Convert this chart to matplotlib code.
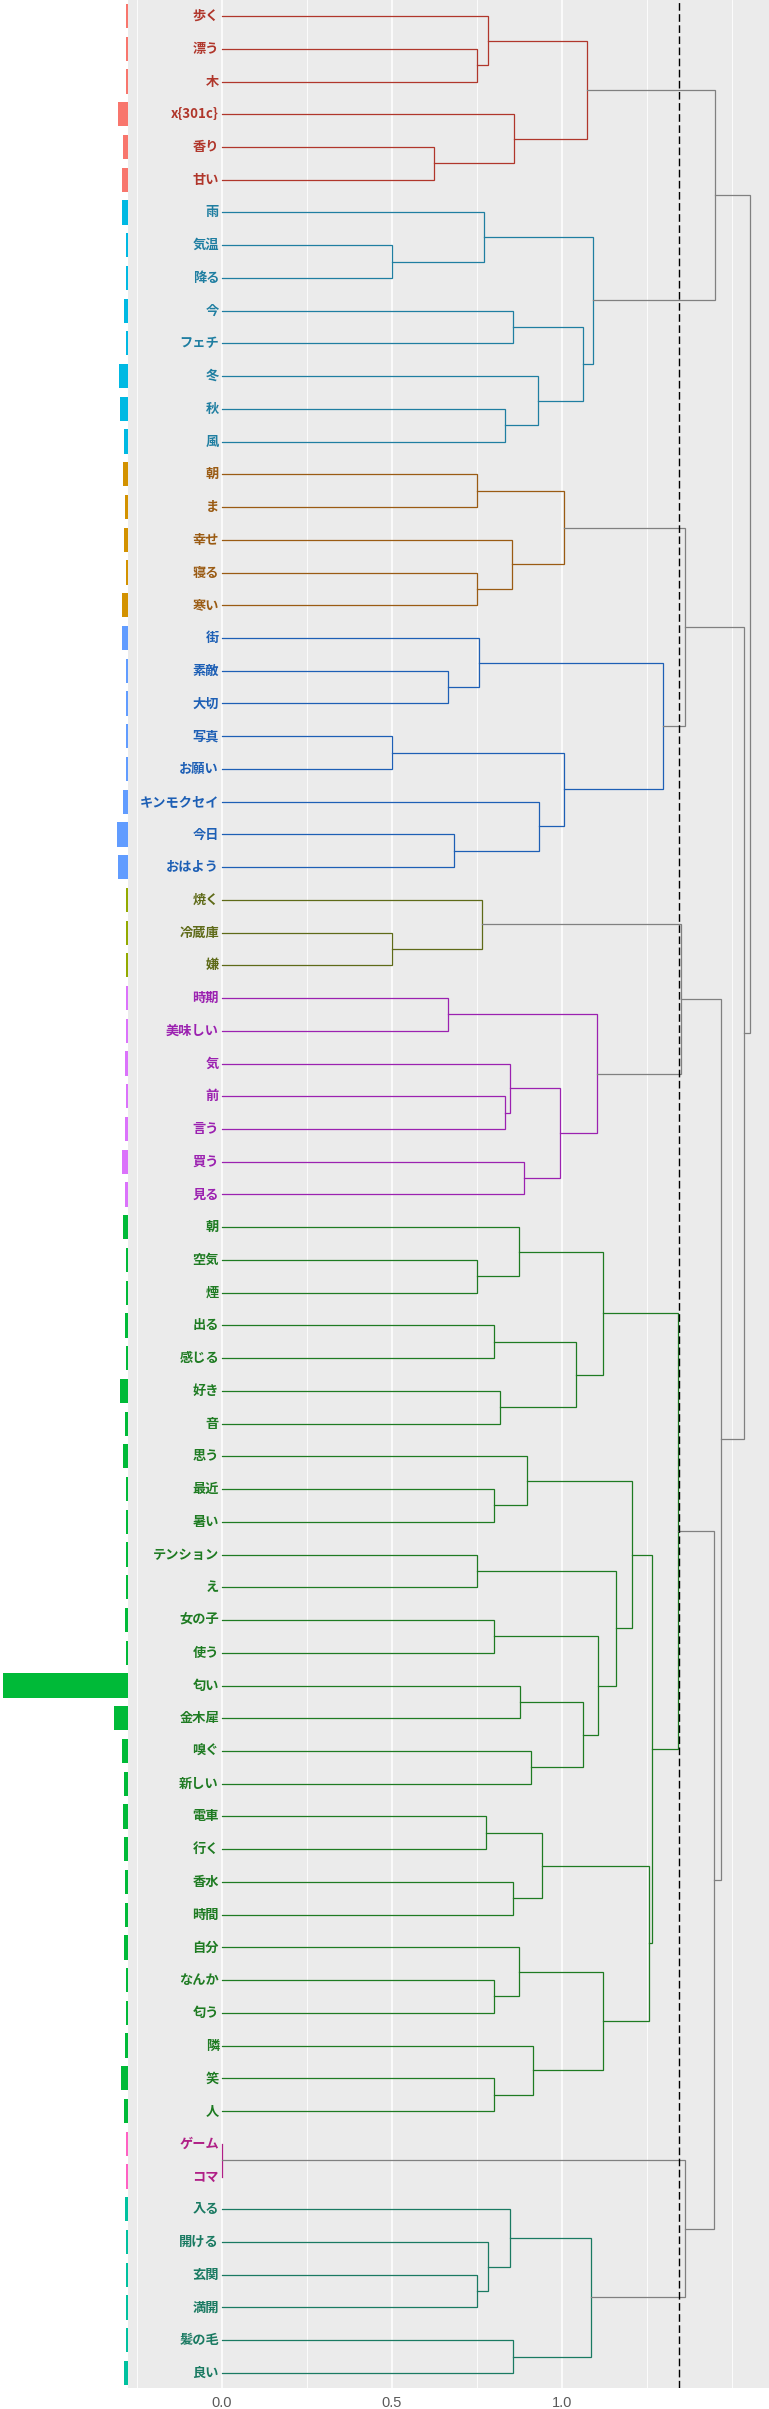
import numpy as np
import matplotlib
matplotlib.use('Agg')
import matplotlib.pyplot as plt

plt.rcParams['font.family'] = ['Noto Sans CJK JP', 'DejaVu Sans']

# 語（上から順）
labels = ['歩く', '漂う', '木', 'x{301c}', '香り', '甘い',
          '雨', '気温', '降る', '今', 'フェチ', '冬', '秋', '風',
          '朝', 'ま', '幸せ', '寝る', '寒い',
          '街', '素敵', '大切', '写真', 'お願い', 'キンモクセイ', '今日', 'おはよう',
          '焼く', '冷蔵庫', '嫌',
          '時期', '美味しい', '気', '前', '言う', '買う', '見る',
          '朝', '空気', '煙', '出る', '感じる', '好き', '音',
          '思う', '最近', '暑い', 'テンション', 'え', '女の子', '使う', '匂い', '金木犀', '嗅ぐ', '新しい',
          '電車', '行く', '香水', '時間', '自分', 'なんか', '匂う', '隣', '笑', '人',
          'ゲーム', 'コマ',
          '入る', '開ける', '玄関', '満開', '髪の毛', '良い']

# 出現数（左の棒）
freq = [6, 6, 6, 30, 15, 18,
        18, 6, 6, 12, 6, 27, 24, 12,
        15, 9, 12, 6, 18,
        18, 6, 6, 6, 6, 15, 33, 30,
        6, 6, 6,
        6, 6, 9, 6, 9, 18, 9,
        15, 6, 6, 9, 6, 24, 9,
        15, 6, 6, 6, 6, 9, 6, 375, 42, 18, 12,
        15, 12, 9, 9, 12, 6, 6, 9, 21, 12,
        6, 6,
        9, 6, 6, 6, 6, 12]

cluster_sizes = [6, 8, 5, 8, 3, 7, 28, 2, 6]
line_colors = ['#B0362B', '#1F7EA1', '#9A5B13', '#1D5FB5', '#5E6A18',
               '#9B21B0', '#1E7B22', '#B01F86', '#1A7A62']
bar_colors = ['#F8766D', '#00B9E3', '#D39200', '#619CFF', '#93AA00',
              '#DB72FB', '#00BA38', '#FF61C3', '#00C19F']

cut_height = 1.345

# 併合 (左, 右, 高さ)
red = ((0, (1, 2, 0.750), 0.781), (3, (4, 5, 0.623), 0.859), 1.072)
cyan = ((6, (7, 8, 0.500), 0.770),
        ((9, 10, 0.855), (11, (12, 13, 0.833), 0.928), 1.061), 1.092)
orange = ((14, 15, 0.750), (16, (17, 18, 0.750), 0.852), 1.007)
blue = ((19, (20, 21, 0.664), 0.756),
        ((22, 23, 0.500), (24, (25, 26, 0.682), 0.931), 1.007), 1.298)
olive = (27, (28, 29, 0.500), 0.764)
purple = ((30, 31, 0.664), ((32, (33, 34, 0.833), 0.846), (35, 36, 0.887), 0.993), 1.102)
green1 = ((37, (38, 39, 0.750), 0.873), ((40, 41, 0.800), (42, 43, 0.817), 1.040), 1.119)
green2 = ((44, (45, 46, 0.800), 0.896),
          ((47, 48, 0.750), ((49, 50, 0.800), ((51, 52, 0.876), (53, 54, 0.908), 1.061), 1.107), 1.157),
          1.204)
green3 = (((55, 56, 0.777), (57, 58, 0.855), 0.940),
          ((59, (60, 61, 0.800), 0.873), (62, (63, 64, 0.800), 0.914), 1.119), 1.254)
green = (green1, (green2, green3, 1.264), 1.342)
pink = (65, 66, 0.0)
teal = ((67, (68, (69, 70, 0.750), 0.781), 0.846), (71, 72, 0.855), 1.086)

tree = ((red, cyan, 1.448),
        ((orange, blue, 1.362),
         ((olive, purple, 1.348), (green, (pink, teal, 1.362), 1.445), 1.468), 1.535),
        1.553)

leaf_cluster = np.repeat(np.arange(len(cluster_sizes)), cluster_sizes)
rows = np.arange(1, len(labels) + 1)

W, H = 769, 2409
fig = plt.figure(figsize=(W / 100, H / 100), dpi=100)
x_split = 128.3 / W
bottom = 1 - 2388 / H
ax_bar = fig.add_axes([0, bottom, x_split, 1 - bottom])
ax = fig.add_axes([x_split, bottom, 1 - x_split, 1 - bottom])

ylim = (73.46, 0.51)

# 左の棒
ax_bar.barh(rows, freq, height=0.74, color=[bar_colors[c] for c in leaf_cluster])
ax_bar.set_xlim(max(freq) * 128.3 / 125, 0)
ax_bar.set_ylim(*ylim)
ax_bar.axis('off')

# デンドログラム
ax.set_facecolor('#EBEBEB')
for s in ax.spines.values():
    s.set_visible(False)
ax.set_xlim(-0.2746, 1.608)
ax.set_ylim(*ylim)
ax.set_xticks([0, 0.5, 1.0])
ax.set_xticklabels(['0.0', '0.5', '1.0'], family='Liberation Sans')
ax.set_xticks([-0.25, 0.25, 0.75, 1.25, 1.5], minor=True)
ax.set_yticks([])
ax.tick_params(axis='x', which='both', length=0, pad=6, labelsize=10.5, labelcolor='#5A5A5A')
ax.grid(True, axis='x', which='major', color='white', linewidth=1.1)
ax.grid(True, axis='x', which='minor', color='white', linewidth=0.6)
ax.set_axisbelow(True)


def first_leaf(node):
    while not isinstance(node, int):
        node = node[0]
    return node


def draw(node):
    if isinstance(node, int):
        return node + 1, 0.0
    left, right, h = node
    yl, hl = draw(left)
    yr, hr = draw(right)
    if h > cut_height:
        color = '#808080'
    else:
        color = line_colors[leaf_cluster[first_leaf(node)]]
    ax.plot([hl, h, h, hr], [yl, yl, yr, yr], color=color, linewidth=0.9,
            solid_joinstyle='miter', zorder=2)
    return (yl + yr) / 2, h


draw(tree)

ax.axvline(cut_height, color='black', linewidth=1.0, dashes=(5.5, 2.5), zorder=3)

for r, lab, c in zip(rows, labels, leaf_cluster):
    ax.text(-0.008, r, lab, ha='right', va='center', fontsize=9.5,
            fontweight='bold', color=line_colors[c], zorder=4)

fig.savefig('out.png', dpi=100)
